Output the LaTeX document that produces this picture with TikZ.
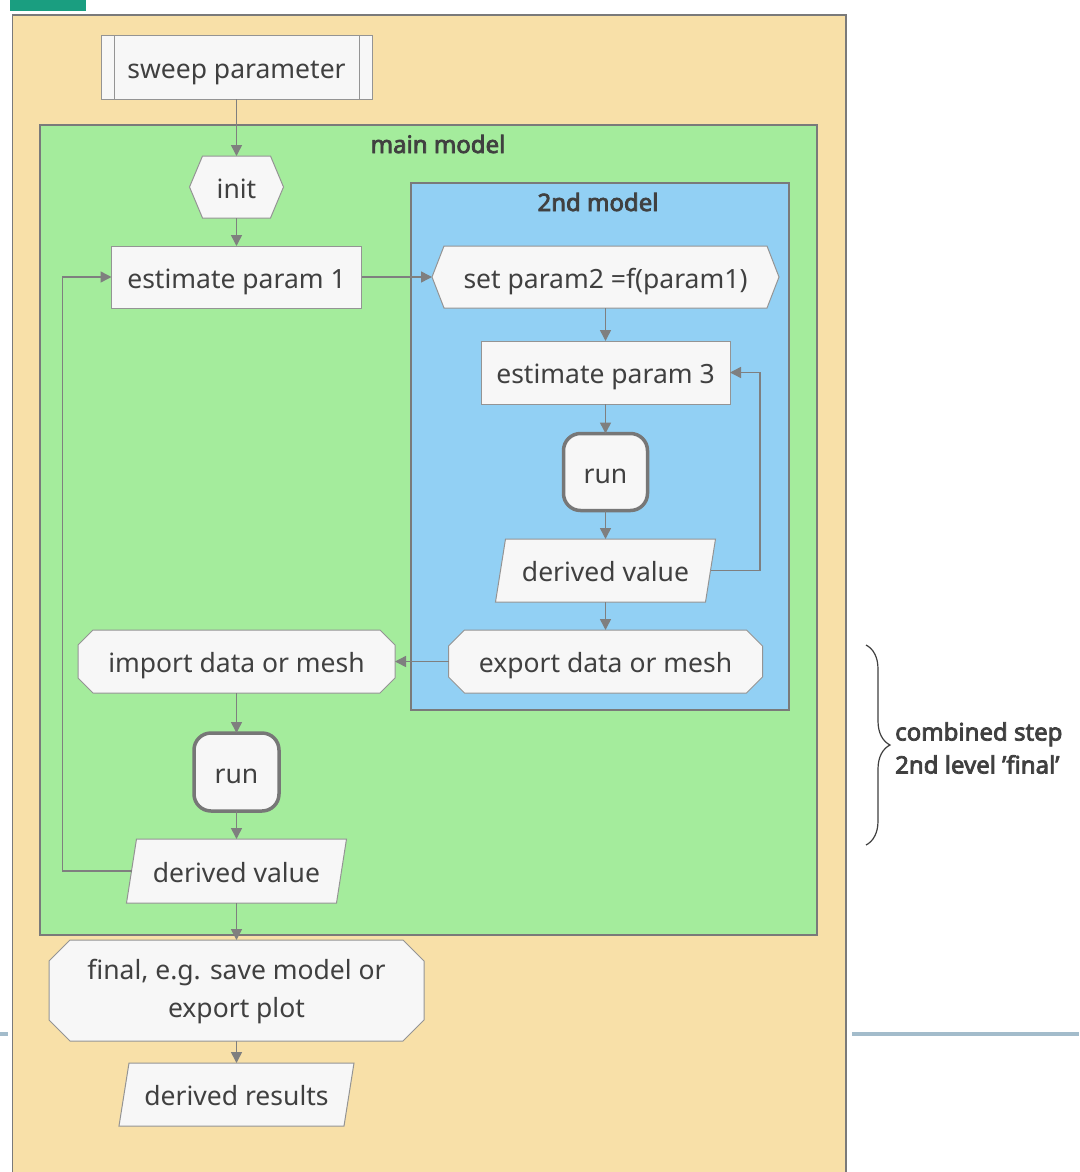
\documentclass[tikz,border=0pt]{standalone}
\usepackage{fontspec}
\setmainfont{Noto Sans}[AutoFakeBold=3.2]
\usetikzlibrary{arrows.meta,calc,decorations.pathreplacing}
\pgfdeclarelayer{boxes}
\pgfdeclarelayer{outlines}
\pgfsetlayers{boxes,outlines,main}

\definecolor{outerfill}{HTML}{F8E0A8}
\definecolor{mainfill}{HTML}{A4EC9C}
\definecolor{secfill}{HTML}{92D0F4}
\definecolor{nodefill}{HTML}{F7F7F7}
\definecolor{nodeline}{HTML}{949494}
\definecolor{runline}{HTML}{777777}
\definecolor{arrc}{HTML}{7F7F7F}
\definecolor{contline}{HTML}{7A7A7A}
\definecolor{txtc}{HTML}{404040}
\definecolor{tabc}{HTML}{1A9E80}
\definecolor{rulec}{HTML}{A3BCCB}

% outline helpers for the non-rectangular steps
\newcommand\drawhexa[2]{\path[shp] (#1.west) -- ([xshift=#2]#1.north west) -- ([xshift=-#2]#1.north east) -- (#1.east) -- ([xshift=-#2]#1.south east) -- ([xshift=#2]#1.south west) -- cycle;}
\newcommand\drawoct[2]{\path[shp] ([xshift=#2]#1.north west) -- ([xshift=-#2]#1.north east) -- ([yshift=-#2]#1.north east) -- ([yshift=#2]#1.south east) -- ([xshift=-#2]#1.south east) -- ([xshift=#2]#1.south west) -- ([yshift=#2]#1.south west) -- ([yshift=-#2]#1.north west) -- cycle;}
\newcommand\drawslant[2]{\path[shp] (#1.south west) -- ([xshift=#2]#1.north west) -- (#1.north east) -- ([xshift=-#2]#1.south east) -- cycle;}

\begin{document}
\begin{tikzpicture}[x=1pt,y=-1pt,
  box/.style={inner sep=0pt, outer sep=0pt, text=txtc, font=\fontsize{26.5}{38}\selectfont,
    text height=22pt, text depth=0pt, minimum height=62pt, align=center},
  plain/.style={box, draw=nodeline, fill=nodefill, line width=1pt},
  runbox/.style={box, draw=runline, fill=nodefill, line width=3.5pt, rounded corners=17pt},
  shp/.style={draw=nodeline, fill=nodefill, line width=1pt},
  arr/.style={draw=arrc, line width=1.5pt, -{Triangle[length=11pt,width=11pt]}},
  cont/.style={draw=contline, line width=1.5pt},
  title/.style={text=txtc, font=\fontsize{24}{30}\selectfont\bfseries, inner sep=0pt}]

\useasboundingbox (0,0) rectangle (1079,1172);

% containers
\begin{pgfonlayer}{boxes}
  \fill[white] (0,0) rectangle (1079,1172);
  \fill[tabc] (10,0) rectangle (86,11);
  \fill[rulec] (0,1032) rectangle (8,1036);
  \fill[rulec] (852,1032) rectangle (1079,1036);
  \fill[outerfill] (12.5,15) rectangle (846,1172);
  \draw[cont] (12.5,1172) -- (12.5,15) -- (846,15) -- (846,1172);
  \filldraw[cont, fill=mainfill] (40,125) rectangle (817,935);
  \filldraw[cont, fill=secfill] (411,183) rectangle (789,710);
\end{pgfonlayer}

\node[title] (mainT) at (438,144) {main model};
\node[title] (secT) at (598,202) {2nd model};

% steps, main column
\node[plain, minimum width=271pt, minimum height=63pt] (sweep) at (236.5,67.5) {sweep parameter};
\draw[nodeline, line width=1pt] ([xshift=13pt]sweep.north west) -- ([xshift=13pt]sweep.south west)
  ([xshift=-13pt]sweep.north east) -- ([xshift=-13pt]sweep.south east);
\node[box, minimum width=94pt] (init) at (236.5,187) {init};
\node[plain, minimum width=250pt] (est1) at (236.5,277) {estimate param 1};
\node[box, minimum width=317pt, minimum height=63pt] (imp) at (236.5,661.5) {import data or mesh};
\node[runbox, minimum width=85pt, minimum height=78pt] (run2) at (236.5,772) {run};
\node[box, minimum width=220pt, minimum height=64pt] (dv2) at (236.5,871) {derived value};
\node[box, minimum width=375pt, minimum height=101pt, text height=53pt] (final) at (236.5,990.5) {final, e.g. save model or\\export plot};
\node[box, minimum width=235pt, minimum height=63pt] (res) at (236.5,1094.5) {derived results};

% steps, 2nd model
\node[box, minimum width=347pt] (setp) at (605.5,277) {set param2 =f(param1)};
\node[plain, minimum width=249pt, minimum height=63pt] (est3) at (605.5,372.5) {estimate param 3};
\node[runbox, minimum width=84pt, minimum height=77pt] (run1) at (605.5,472) {run};
\node[box, minimum width=220pt, minimum height=63pt] (dv1) at (605.5,570.5) {derived value};
\node[box, minimum width=314pt, minimum height=63pt] (exp) at (605.5,661.5) {export data or mesh};

\begin{pgfonlayer}{outlines}
  \drawhexa{init}{13pt}
  \drawhexa{setp}{12pt}
  \drawoct{imp}{15pt}
  \drawoct{exp}{16pt}
  \drawoct{final}{21pt}
  \drawslant{dv1}{10pt}
  \drawslant{dv2}{10pt}
  \drawslant{res}{10pt}
\end{pgfonlayer}

% connectors
\draw[arr] (sweep) -- (init);
\draw[arr] (init) -- (est1);
\draw[arr] (est1) -- (setp);
\draw[arr] (setp) -- (est3);
\draw[arr] (est3) -- (run1);
\draw[arr] (run1) -- (dv1);
\draw[arr] (dv1) -- (exp);
\draw[arr] ([xshift=-5pt]dv1.east) -| ($(est3.east)+(30,0)$) -- (est3.east);
\draw[arr] (exp) -- (imp);
\draw[arr] (imp) -- (run2);
\draw[arr] (run2) -- (dv2);
\draw[arr] ([xshift=5pt]dv2.west) -| ($(est1.west)+(-49,0)$) -- (est1.west);
\draw[arr] (dv2) -- (final);
\draw[arr] (final) -- (res);

% brace and its note
\coordinate (brTop) at (866,645);
\coordinate (brBot) at (866,845);
\draw[txtc, line width=1.2pt, decorate, decoration={brace, amplitude=24pt, aspect=0.5}] (brTop) -- (brBot);
\node[title, anchor=west, align=left, font=\fontsize{24}{33}\selectfont\bfseries] (note) at (895,748) {combined step\\2nd level 'final'};
\end{tikzpicture}
\end{document}
